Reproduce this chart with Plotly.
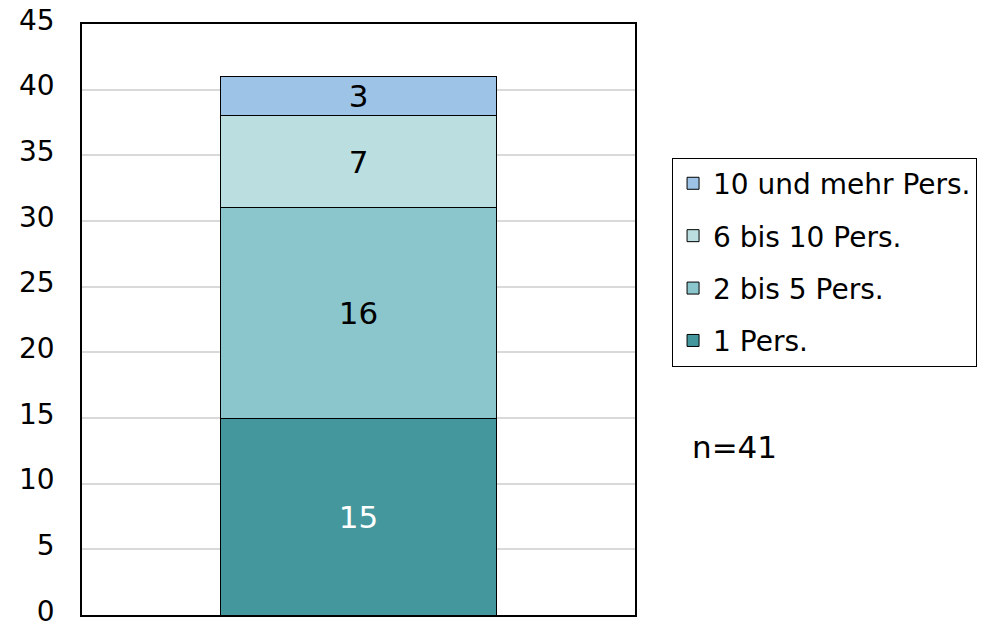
import plotly.graph_objects as go

categories = [""]
series_names = ["1 Pers.", "2 bis 5 Pers.", "6 bis 10 Pers.", "10 und mehr Pers."]
series_values = [[15], [16], [7], [3]]
series_colors = ["#45979E", "#8BC6CD", "#BBDFE1", "#9DC3E6"]
label_colors = ["white", "black", "black", "black"]
y_ticks = [0, 5, 10, 15, 20, 25, 30, 35, 40, 45]
note_text = "n=41"

FONT = "DejaVu Sans"

fig = go.Figure()
for i, (name, vals, col, lc) in enumerate(zip(series_names, series_values, series_colors, label_colors)):
    fig.add_trace(go.Bar(
        x=categories, y=vals, name=name, legendgroup=name, legendrank=1000 - i,
        marker=dict(color=col, line=dict(color="black", width=1)),
        text=[str(v) for v in vals], textposition="inside",
        insidetextanchor="middle", textangle=0, constraintext="none",
        textfont=dict(family=FONT, size=31, color=lc),
        width=0.5,
    ))

fig.update_layout(
    barmode="stack",
    width=988, height=627,
    margin=dict(l=82, r=353, t=24, b=12, autoexpand=False),
    paper_bgcolor="white", plot_bgcolor="white",
    font=dict(family=FONT, size=28, color="black"),
    showlegend=True,
    legend=dict(
        x=1.067, y=0.774, xanchor="left", yanchor="top",
        traceorder="grouped", tracegroupgap=13,
        bordercolor="black", borderwidth=1,
        font=dict(family=FONT, size=28, color="black"),
        itemwidth=30,
    ),
    xaxis=dict(range=[-0.5, 0.5], showticklabels=False, showline=True,
               linecolor="black", linewidth=1.5, mirror=True, showgrid=False,
               fixedrange=True, automargin=False),
    yaxis=dict(range=[0, 45], tickvals=y_ticks, showline=True, linecolor="black",
               linewidth=1.5, mirror=True, showgrid=True, gridcolor="#D9D9D9",
               gridwidth=1.5, ticks="", ticklabelstandoff=20, zeroline=False,
               ticklabeloverflow="allow", automargin=False, ticklabelshift=-4,
               tickfont=dict(family=FONT, size=28, color="black")),
    annotations=[dict(text=note_text, xref="paper", yref="paper",
                      x=1.0995, y=0.284, xanchor="left", yanchor="middle",
                      showarrow=False, font=dict(family=FONT, size=31, color="black"))],
)

fig.write_html("out.html", config={"displayModeBar": False},
               post_script="document.body.style.margin='0';")
